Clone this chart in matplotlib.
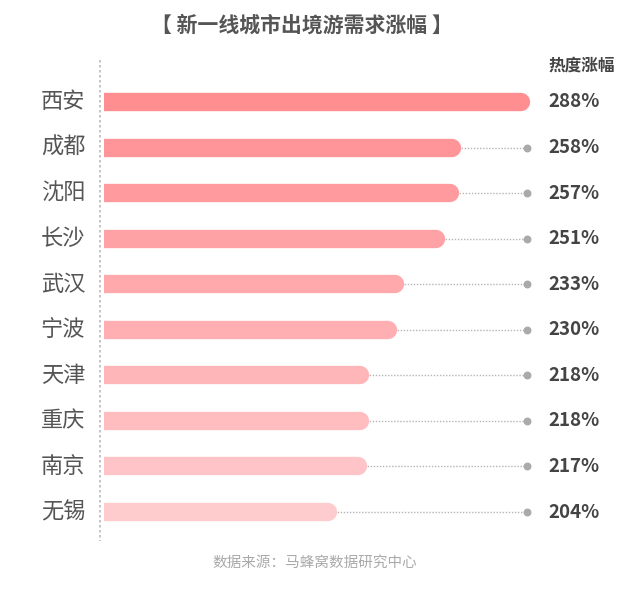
import matplotlib.pyplot as plt
from matplotlib.lines import Line2D

plt.rcParams['font.family'] = ['Noto Sans CJK SC', 'DejaVu Sans']

cities = ['西安', '成都', '沈阳', '长沙', '武汉', '宁波', '天津', '重庆', '南京', '无锡']
growth = [288, 258, 257, 251, 233, 230, 218, 218, 217, 204]
labels = ['288%', '258%', '257%', '251%', '233%', '230%', '218%', '218%', '217%', '204%']
colors = ['#ff8e91', '#ff9598', '#ff9b9e', '#ffa2a5', '#ffa9ac',
          '#ffafb2', '#ffb6b9', '#ffbdc0', '#ffc4c7', '#ffccce']

title = '【 新一线城市出境游需求涨幅 】'
col_header = '热度涨幅'
source = '数据来源：马蜂窝数据研究中心'

W, H = 640, 593
fig = plt.figure(figsize=(W / 100, H / 100), dpi=100)
fig.patch.set_facecolor('white')

# axes: bars start at px 104, right edge at px 540
ax = fig.add_axes([104 / W, 1 - 534.8 / H, (540 - 104) / W, (534.8 - 79.2) / H])
x0, x1 = 106.5, 296.2
dot_x = 290.6
ax.set_xlim(x0, x1)
ax.set_ylim(len(cities) - 0.5, -0.5)
ax.axis('off')

label_x = (548 - 104) / (540 - 104)
bar_lw = 13.2
for i, v in enumerate(growth):
    if v < max(growth):
        # dotted leader from bar end to the dot
        ax.plot([v, dot_x], [i, i], color='#b5b5b5', lw=1, ls=(0, (1, 1.2)), zorder=1)
        ax.scatter([dot_x], [i], s=22, color='#aaaaaa', zorder=2)
    # bar with rounded right end (left cap clipped by the axes)
    ax.plot([x0 - 10, v], [i, i], color=colors[i], lw=bar_lw,
            solid_capstyle='round', zorder=3)
    ax.text(-0.043, i, cities[i], transform=ax.get_yaxis_transform(),
            ha='right', va='center', fontsize=16, color='#555555')
    ax.text(label_x, i, labels[i], transform=ax.get_yaxis_transform(),
            ha='left', va='center', fontsize=13.5, fontweight='bold',
            color='#444444')

# dotted vertical axis line
fig.add_artist(Line2D([100 / W, 100 / W], [1 - 60 / H, 1 - 541 / H],
                      color='#bbbbbb', lw=1.2, ls=(0, (1.5, 1.5))))

fig.text(302 / W, 1 - 25 / H, title, ha='center', va='center',
         fontsize=15, fontweight='bold', color='#555555')
fig.text(548 / W, 1 - 66 / H, col_header, ha='left', va='center',
         fontsize=12, fontweight='bold', color='#444444')
fig.text(315 / W, 1 - 563 / H, source, ha='center', va='center',
         fontsize=10.5, color='#aaaaaa')

fig.savefig('out.png', dpi=100, facecolor='white')
